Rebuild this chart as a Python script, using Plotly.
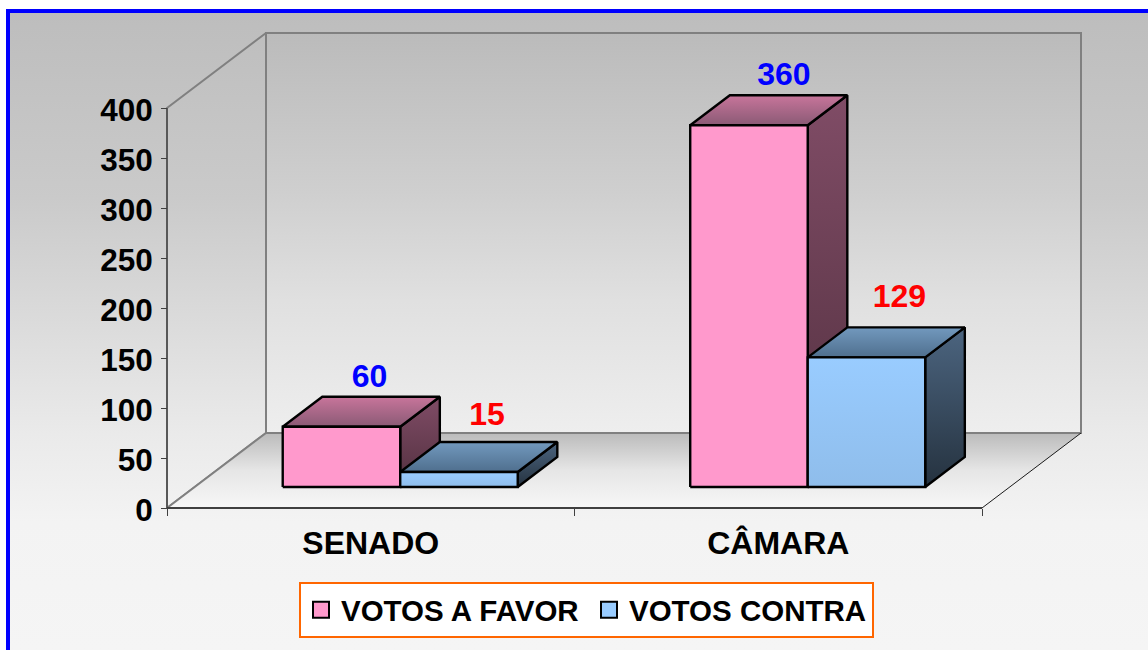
import plotly.graph_objects as go

categories = ["SENADO", "CÂMARA"]
votos_favor = [60, 360]
votos_contra = [15, 129]
y_ticks = [0, 50, 100, 150, 200, 250, 300, 350, 400]
label_dx = {"favor": [28, 35], "contra": [28, 33]}
label_dy = {"favor": [48, 48], "contra": [55, 58]}

FONT = "Liberation Sans, Arial, sans-serif"
W, H = 1148, 650
L, R, T, B = 167, 982, 108, 508
UX = (R - L) / 2.0            # px per category
DX, DY = 99 / UX, 75          # wall depth in axis units
BAR_W = 117.5 / UX
BAR_OFF = 88 / UX
D0, D1 = 21 / 75, 51 / 75     # bar depth limits
V = 1.005                     # bar height per axis unit
EDGE = 2.4


def P(x, y, d=0.0):
    return x + d * DX, y + d * DY


def poly(pts, scale=None, line=None, width=EDGE, fill=None):
    xs = [p[0] for p in pts] + [pts[0][0]]
    ys = [p[1] for p in pts] + [pts[0][1]]
    kw = dict(x=xs, y=ys, mode="lines", fill="toself", showlegend=False, hoverinfo="skip")
    kw["line"] = dict(color=line, width=width) if line else dict(width=0, color="rgba(0,0,0,0)")
    if scale:
        kw["fillgradient"] = dict(type="vertical", colorscale=scale)
        kw["fillcolor"] = "rgba(0,0,0,0)"
    else:
        kw["fillcolor"] = fill or "rgba(0,0,0,0)"
    return go.Scatter(**kw)


def edge(a, b, color, width):
    return go.Scatter(x=[a[0], b[0]], y=[a[1], b[1]], mode="lines", line=dict(color=color, width=width),
                      showlegend=False, hoverinfo="skip")


fig = go.Figure()

# page background
bg_pts = [((10 - L) / UX, B - 13), ((W - L) / UX, B - 13), ((W - L) / UX, B - H), ((10 - L) / UX, B - H)]
fig.add_trace(poly(bg_pts, scale=[[0, "#F5F5F5"], [0.2, "#F3F3F3"], [0.34, "#EAEAEA"], [0.55, "#D8D8D8"],
                                  [0.71, "#CACACA"], [1, "#BDBDBD"]]))

# walls and floor
A, Bk = P(0, 0), P(0, 0, 1)
C, Dd = P(2, 0), P(2, 0, 1)
TL, TB, TR = P(0, 400), P(0, 400, 1), P(2, 400, 1)
fig.add_trace(poly([Bk, Dd, TR, TB], scale=[[0, "#EEEEEE"], [0.33, "#E0E0E0"], [0.6, "#CFCFCF"], [1, "#BBBBBB"]],
                   line="#808080", width=2))
fig.add_trace(poly([A, Bk, TB, TL], line="#808080", width=2))
fig.add_trace(poly([A, C, Dd, Bk], scale=[[0, "#F7F7F7"], [0.5, "#E6E6E6"], [1, "#BBBBBB"]]))
fig.add_trace(edge(A, Bk, "#808080", 2))
fig.add_trace(edge(Bk, Dd, "#808080", 2))
fig.add_trace(edge(C, Dd, "#1A1A1A", 1))
# axis lines
fig.add_trace(edge(A, C, "#404040", 2))
fig.add_trace(edge(A, TL, "#303030", 1))

STYLE = {
    "favor": dict(front=[[0, "#FF99CC"], [1, "#FF99CC"]],
                  top=[[0, "#8A5A75"], [1, "#C8759B"]],
                  side=[[0, "#52303F"], [1, "#804C66"]]),
    "contra": dict(front=[[0, "#8FBDEB"], [1, "#99CCFF"]],
                   top=[[0, "#4F6F8E"], [1, "#7299BE"]],
                   side=[[0, "#25323F"], [1, "#4C6580"]]),
}


def bar(x0, v, style):
    x1 = x0 + BAR_W
    h = v * V
    a, b = P(x0, 0, D0), P(x1, 0, D0)
    c, d = P(x1, h, D0), P(x0, h, D0)
    e, f = P(x1, h, D1), P(x0, h, D1)
    g = P(x1, 0, D1)
    fig.add_trace(poly([b, g, e, c], scale=style["side"], line="#000000"))
    fig.add_trace(poly([d, c, e, f], scale=style["top"], line="#000000"))
    fig.add_trace(poly([a, b, c, d], scale=style["front"], line="#000000"))


for i in range(len(categories)):
    x_f = i + BAR_OFF
    bar(x_f, votos_favor[i], STYLE["favor"])
    bar(x_f + BAR_W, votos_contra[i], STYLE["contra"])

# value labels
for key, vals, colr, shift in (("favor", votos_favor, "#0000FF", 0), ("contra", votos_contra, "#FF0000", 1)):
    xs, ys = [], []
    for i, v in enumerate(vals):
        px, py = P(i + BAR_OFF + (shift + 0.5) * BAR_W + label_dx[key][i] / UX, v * V + label_dy[key][i], D0)
        xs.append(px)
        ys.append(py)
    fig.add_trace(go.Scatter(x=xs, y=ys, mode="text", text=[str(v) for v in vals], textposition="middle center",
                             textfont=dict(family=FONT, size=32, color=colr, weight="bold"), showlegend=False,
                             hoverinfo="skip"))

# legend entries
for name, colr, lw in (("VOTOS A FAVOR", "#FF99CC", 243), ("VOTOS CONTRA", "#99CCFF", 238)):
    fig.add_trace(go.Scatter(x=[None], y=[None], mode="markers", name=name, legendwidth=lw,
                             marker=dict(symbol="square", size=18, color=colr, line=dict(color="#000000", width=2))))

fig.update_layout(
    width=W, height=H, autosize=False,
    margin=dict(l=0, r=0, t=0, b=0, pad=0),
    paper_bgcolor="#FFFFFF", plot_bgcolor="rgba(0,0,0,0)",
    font=dict(family=FONT, color="#000000"),
    xaxis=dict(range=[-L / UX, (W - L) / UX], anchor="free", position=(H - B) / H,
               tickvals=[0.5, 1.5], ticktext=categories, ticks="", showgrid=False, zeroline=False,
               showline=False, ticklabelstandoff=13,
               tickfont=dict(family=FONT, size=32, weight="bold", color="#000000"),
               minor=dict(ticks="outside", tickvals=[0, 1, 2], ticklen=7, tickcolor="#404040", tickwidth=1)),
    yaxis=dict(range=[B - H, B], anchor="free", position=L / W, tickvals=y_ticks, ticks="outside", ticklen=6,
               tickcolor="#404040", tickwidth=1, showgrid=False, zeroline=False, showline=False, ticklabelstandoff=2,
               ticklabelshift=2,
               tickfont=dict(family=FONT, size=31.5, weight="bold", color="#000000")),
    legend=dict(orientation="h", x=299 / W, y=1 - 582 / H, xanchor="left", yanchor="top",
                bgcolor="#FFFFFF", bordercolor="#FF6600", borderwidth=2,
                font=dict(family=FONT, size=29.5, weight="bold", color="#000000")),
    shapes=[dict(type="rect", xref="paper", yref="paper",
                 x0=8 / W, x1=1170 / W, y0=1 - 670 / H, y1=1 - 11 / H,
                 line=dict(color="#0000FF", width=4), fillcolor="rgba(0,0,0,0)")],
)

fig.write_html("out.html", config={"displayModeBar": False},
               post_script="document.body.style.margin='0';document.body.style.overflow='hidden';")
